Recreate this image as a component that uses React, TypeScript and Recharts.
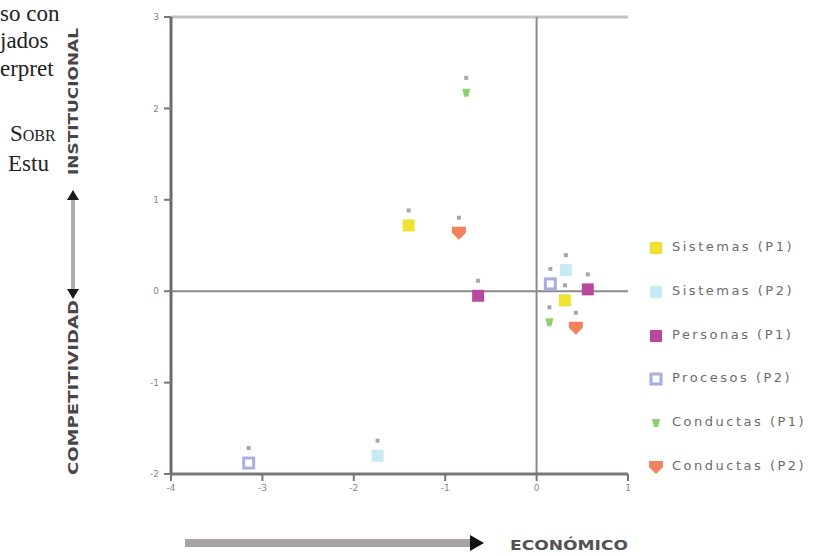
import React from 'react';
import { ScatterChart, Scatter, XAxis, YAxis, ReferenceLine } from 'recharts';

const seriesNames = [
  'Sistemas (P1)',
  'Sistemas (P2)',
  'Personas (P1)',
  'Procesos (P2)',
  'Conductas (P1)',
  'Conductas (P2)',
];
const seriesColors = ['#f0e232', '#c8eaf2', '#b8499f', '#a9aee0', '#8fcf6c', '#f2825e'];

const sistemasP1 = [
  { x: -1.4, y: 0.72 },
  { x: 0.31, y: -0.1 },
];
const sistemasP2 = [
  { x: -1.74, y: -1.8 },
  { x: 0.32, y: 0.23 },
];
const personasP1 = [
  { x: -0.64, y: -0.05 },
  { x: 0.56, y: 0.02 },
];
const procesosP2 = [
  { x: -3.15, y: -1.88 },
  { x: 0.15, y: 0.08 },
];
const conductasP1 = [
  { x: -0.77, y: 2.17 },
  { x: 0.14, y: -0.34 },
];
const conductasP2 = [
  { x: -0.85, y: 0.64 },
  { x: 0.43, y: -0.4 },
];
const seriesData = [sistemasP1, sistemasP2, personasP1, procesosP2, conductasP1, conductasP2];

const xTicks = [-4, -3, -2, -1, 0, 1];
const yTicks = [-2, -1, 0, 1, 2, 3];

const pageLines = [
  { text: 'so con', top: 0, left: 0, caps: false },
  { text: 'jados', top: 27, left: 0, caps: false },
  { text: 'erpret', top: 55, left: 0, caps: false },
  { text: 'Sobr', top: 120, left: 10, caps: true },
  { text: 'Estu', top: 150, left: 8, caps: false },
];

function marker(i: number, cx: number, cy: number) {
  const c = seriesColors[i];
  if (i === 3) {
    return <rect x={cx - 5} y={cy - 5} width={10} height={10} fill="#fff" stroke={c} strokeWidth={3} />;
  }
  if (i === 4) {
    return <path d={`M${cx - 4},${cy - 4} L${cx + 4},${cy - 4} L${cx + 2},${cy + 4} L${cx - 2},${cy + 4} Z`} fill={c} />;
  }
  if (i === 5) {
    return <path d={`M${cx - 7},${cy - 6} L${cx + 7},${cy - 6} L${cx + 7},${cy} L${cx},${cy + 7} L${cx - 7},${cy} Z`} fill={c} />;
  }
  return <rect x={cx - 6} y={cy - 6} width={12} height={12} fill={c} />;
}

function makeShape(i: number) {
  return (props: any) => {
    const { cx, cy } = props;
    if (cx == null || cy == null) return <g />;
    return (
      <g>
        {marker(i, cx, cy)}
        <rect x={cx - 2} y={cy - 17} width={4} height={4} fill="#a8a8a8" />
      </g>
    );
  };
}

function LegendBox() {
  return (
    <div style={{ position: 'absolute', left: 647, top: 238, width: 166 }}>
      {seriesNames.map((n, i) => (
        <div key={n} style={{ height: 43.8, position: 'relative' }}>
          <svg width={20} height={20} style={{ position: 'absolute', left: 0, top: 0 }}>
            {marker(i, 9, 10)}
          </svg>
          <span
            style={{
              position: 'absolute',
              left: 25,
              top: 1,
              fontFamily: 'DejaVu Sans, sans-serif',
              fontSize: 13,
              letterSpacing: 2.5,
              color: '#6c6c6c',
              whiteSpace: 'nowrap',
              lineHeight: '16px',
            }}
          >
            {n}
          </span>
        </div>
      ))}
    </div>
  );
}

export default function App() {
  return (
    <div style={{ position: 'absolute', left: 0, top: 0, width: 813, height: 556, overflow: 'hidden', background: '#fff' }}>
      {pageLines.map((l) => (
        <div
          key={l.text}
          style={{
            position: 'absolute',
            left: l.left,
            top: l.top,
            fontFamily: 'Liberation Serif, serif',
            fontSize: 23,
            fontVariant: l.caps ? 'small-caps' : 'normal',
            color: '#222',
            whiteSpace: 'nowrap',
            lineHeight: '27px',
          }}
        >
          {l.text}
        </div>
      ))}
      <div style={{ position: 'absolute', left: 0, top: 0 }}>
        <ScatterChart width={813} height={556} margin={{ top: 17, right: 185, bottom: 52, left: 111 }}>
          <XAxis
            type="number"
            dataKey="x"
            domain={[-4, 1]}
            ticks={xTicks}
            axisLine={{ stroke: '#7a7676', strokeWidth: 3 }}
            tickLine={{ stroke: '#7a7676', strokeWidth: 2 }}
            tickSize={7}
            tickMargin={4}
            height={30}
            tick={{ fontSize: 9, fill: '#8a8686', fontFamily: 'DejaVu Sans, sans-serif' }}
          />
          <YAxis
            type="number"
            dataKey="y"
            domain={[-2, 3]}
            ticks={yTicks}
            axisLine={{ stroke: '#6e6a6a', strokeWidth: 3 }}
            tickLine={{ stroke: '#7a7676', strokeWidth: 2 }}
            tickSize={7}
            tickMargin={5}
            width={60}
            tick={{ fontSize: 9, fill: '#8a8686', fontFamily: 'DejaVu Sans, sans-serif' }}
          />
          <ReferenceLine y={3} stroke="#c4c2c2" strokeWidth={3} />
          <ReferenceLine y={0} stroke="#8e8a8a" strokeWidth={2} />
          <ReferenceLine x={0} stroke="#8e8a8a" strokeWidth={2} />
          {seriesData.map((d, i) => (
            <Scatter
              key={seriesNames[i]}
              name={seriesNames[i]}
              data={d}
              fill={seriesColors[i]}
              shape={makeShape(i)}
              isAnimationActive={false}
            />
          ))}
        </ScatterChart>
      </div>
      <LegendBox />
      <svg width={813} height={556} style={{ position: 'absolute', left: 0, top: 0, pointerEvents: 'none' }}>
        <text
          x={0}
          y={0}
          transform="translate(78,175) rotate(-90)"
          textLength={147}
          lengthAdjust="spacingAndGlyphs"
          fontFamily="DejaVu Sans, sans-serif"
          fontWeight="bold"
          fontSize={14}
          fill="#4a4646"
        >
          INSTITUCIONAL
        </text>
        <text
          x={0}
          y={0}
          transform="translate(78,475) rotate(-90)"
          textLength={175}
          lengthAdjust="spacingAndGlyphs"
          fontFamily="DejaVu Sans, sans-serif"
          fontWeight="bold"
          fontSize={14}
          fill="#4a4646"
        >
          COMPETITIVIDAD
        </text>
        <rect x={71} y={199} width={4} height={90} fill="#b0acac" />
        <path d="M67,200 L73,190 L79,200 Z" fill="#1a1a1a" />
        <path d="M67,289 L73,299 L79,289 Z" fill="#1a1a1a" />
        <rect x={185} y={539} width={287} height={8} fill="#a6a4a4" />
        <path d="M470,535 L484,543 L470,551 Z" fill="#111" />
        <text
          x={510}
          y={550}
          textLength={118}
          lengthAdjust="spacingAndGlyphs"
          fontFamily="DejaVu Sans, sans-serif"
          fontWeight="bold"
          fontSize={14}
          fill="#555252"
        >
          ECONÓMICO
        </text>
      </svg>
    </div>
  );
}
